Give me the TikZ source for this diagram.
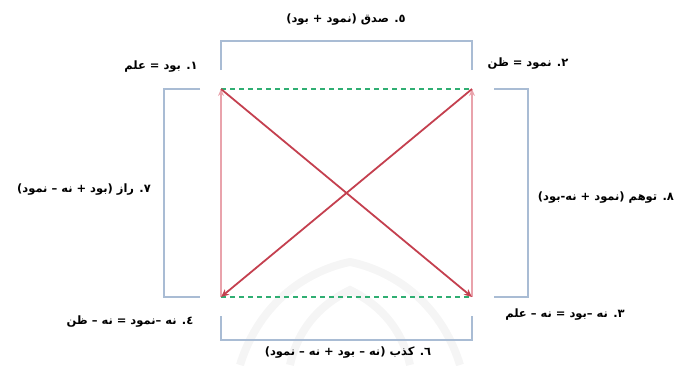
\documentclass[tikz,border=0pt]{standalone}
\usepackage{fontspec}
\newfontfamily\arabicfont[Script=Arabic]{DejaVu Sans}
\TeXXeTstate=1
\usetikzlibrary{arrows.meta}
\definecolor{bracketblue}{HTML}{A9BCD4}
\definecolor{diagred}{HTML}{C4404F}
\definecolor{vertpink}{HTML}{E9A3AC}
\definecolor{dashgreen}{HTML}{2FAE72}
\tikzset{
  lbl/.style={font=\arabicfont\bfseries\fontsize{11.5}{13}\selectfont, inner sep=1pt},
  bracket/.style={draw=bracketblue, line width=1.8pt},
  diag/.style={draw=diagred, line width=1.8pt, -{Stealth[length=8pt,width=7pt]}},
  vert/.style={draw=vertpink, line width=1.3pt, -{Stealth[length=7pt,width=6pt]}},
  gline/.style={draw=dashgreen, line width=1.3pt, dash pattern=on 5pt off 4pt},
  wmark/.style={draw=gray!8, line width=8pt}
}
\begin{document}
\begin{tikzpicture}[x=1pt,y=-1pt]
\useasboundingbox (0,0) rectangle (681,365);
% watermark
\draw[wmark] (240,365) .. controls (260,300) and (310,270) .. (350,262) .. controls (390,270) and (440,300) .. (460,365);
\draw[wmark] (290,365) .. controls (300,320) and (330,300) .. (350,290) .. controls (370,300) and (400,320) .. (410,365);
% corners
\coordinate (TL) at (221,89);
\coordinate (TR) at (472,89);
\coordinate (BL) at (221,297);
\coordinate (BR) at (472,297);
% bracket corners
\coordinate (t1) at (221,70); \coordinate (t2) at (221,41); \coordinate (t3) at (472,41); \coordinate (t4) at (472,70);
\coordinate (b1) at (221,316); \coordinate (b2) at (221,340); \coordinate (b3) at (472,340); \coordinate (b4) at (472,316);
\coordinate (l1) at (200,89); \coordinate (l2) at (164,89); \coordinate (l3) at (164,297); \coordinate (l4) at (200,297);
\coordinate (r1) at (494,89); \coordinate (r2) at (528,89); \coordinate (r3) at (528,297); \coordinate (r4) at (494,297);
\draw[bracket] (t1) -- (t2) -- (t3) -- (t4);
\draw[bracket] (b1) -- (b2) -- (b3) -- (b4);
\draw[bracket] (l1) -- (l2) -- (l3) -- (l4);
\draw[bracket] (r1) -- (r2) -- (r3) -- (r4);
% lines
\draw[gline] (TL) -- (TR);
\draw[gline] (BL) -- (BR);
\draw[vert] (BL) -- (TL);
\draw[vert] (BR) -- (TR);
\draw[diag] (TL) -- (BR);
\draw[diag] (TR) -- (BL);
% labels
\node[lbl] (n5) at (346,20) {\beginR ٥. صدق (نمود + بود)\endR};
\node[lbl] (n1) at (161,67) {\beginR ١. بود = علم\endR};
\node[lbl] (n2) at (528,64) {\beginR ٢. نمود = ظن\endR};
\node[lbl] (n7) at (84,190) {\beginR ٧. راز (بود + نه – نمود)\endR};
\node[lbl] (n8) at (606,198) {\beginR ٨. توهم (نمود + نه-بود)\endR};
\node[lbl] (n4) at (130,322) {\beginR ٤. نه –نمود = نه – ظن\endR};
\node[lbl] (n3) at (565,315) {\beginR ٣. نه –بود = نه – علم\endR};
\node[lbl] (n6) at (348,353) {\beginR ٦. کذب (نه – بود + نه – نمود)\endR};
\end{tikzpicture}
\end{document}
